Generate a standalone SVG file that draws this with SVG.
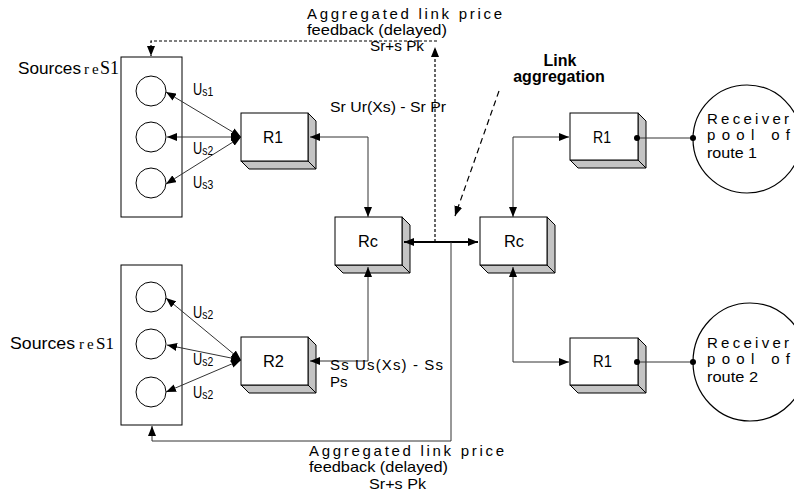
<svg xmlns="http://www.w3.org/2000/svg" width="794" height="495" viewBox="0 0 794 495">
<defs>
<marker id="ah" viewBox="0 0 10 8" refX="10" refY="4" markerWidth="10" markerHeight="8" markerUnits="userSpaceOnUse" orient="auto-start-reverse"><path d="M0,0 L10,4 L0,8 z" fill="#000"/></marker>
<style>
.t{font-family:"Liberation Sans",Arial,sans-serif;fill:#000}
.s{font-family:"Liberation Serif","Times New Roman",serif;fill:#000}
.b{font-family:"Liberation Sans",Arial,sans-serif;font-weight:bold;fill:#000}
.front{fill:#fff;stroke:#000;stroke-width:1}
.side{fill:#c4c4c4;stroke:#000;stroke-width:1;stroke-linejoin:round}
.c{fill:none;stroke:#333;stroke-width:1}
.d{fill:none;stroke:#000;stroke-width:1.2;stroke-dasharray:3 2}
.dl{fill:none;stroke:#000;stroke-width:1.2;stroke-dasharray:6 4}
.thick{fill:none;stroke:#000;stroke-width:2}
.ring{fill:#fff;stroke:#000;stroke-width:1}
.box{fill:#fff;stroke:#000;stroke-width:1}
.pool{fill:none;stroke:#000;stroke-width:1.2}
</style>
</defs>
<rect width="794" height="495" fill="#fff"/>

<g id="sources1">
  <rect class="box" x="121" y="57" width="61" height="160"/>
  <circle class="ring" cx="151" cy="91" r="15"/>
  <circle class="ring" cx="151" cy="137" r="15"/>
  <circle class="ring" cx="151" cy="183" r="15"/>
  <text class="t" x="18" y="74" font-size="17" textLength="63" lengthAdjust="spacingAndGlyphs">Sources</text>
  <text class="s" x="84" y="74" font-size="15">r<tspan x="92">e</tspan><tspan x="100" font-size="18">S1</tspan></text>
</g>
<g id="sources2">
  <rect class="box" x="121" y="265" width="61" height="160"/>
  <circle class="ring" cx="151" cy="297" r="15"/>
  <circle class="ring" cx="151" cy="344" r="15"/>
  <circle class="ring" cx="151" cy="392" r="15"/>
  <text class="t" x="10" y="349" font-size="17" textLength="65" lengthAdjust="spacingAndGlyphs">Sources</text>
  <text class="s" x="79" y="349" font-size="15">r<tspan x="87">e</tspan><tspan x="96" font-size="17">S1</tspan></text>
</g>

<g id="labels-u">
  <text class="t" transform="translate(193,95) scale(0.8,1)" font-size="16">U<tspan font-size="13" dy="1">s1</tspan></text>
  <text class="t" transform="translate(193,154) scale(0.8,1)" font-size="16">U<tspan font-size="13" dy="1">s2</tspan></text>
  <text class="t" transform="translate(193,188) scale(0.8,1)" font-size="16">U<tspan font-size="13" dy="1">s3</tspan></text>
  <text class="t" transform="translate(193,318) scale(0.8,1)" font-size="16">U<tspan font-size="13" dy="1">s2</tspan></text>
  <text class="t" transform="translate(193,365) scale(0.8,1)" font-size="16">U<tspan font-size="13" dy="1">s2</tspan></text>
  <text class="t" transform="translate(193,398) scale(0.8,1)" font-size="16">U<tspan font-size="13" dy="1">s2</tspan></text>
</g>

<g id="r1-top">
  <polygon class="side" points="308,113 316,121 316,169 308,161"/>
  <polygon class="side" points="241,161 308,161 316,169 249,169"/>
  <rect class="front" x="241" y="113" width="67" height="48"/>
  <text class="t" x="263" y="143" font-size="16" textLength="20" lengthAdjust="spacingAndGlyphs">R1</text>
</g>
<g id="r2">
  <polygon class="side" points="308,337 316,345 316,393 308,385"/>
  <polygon class="side" points="241,385 308,385 316,393 249,393"/>
  <rect class="front" x="241" y="337" width="67" height="48"/>
  <text class="t" x="263" y="367" font-size="16" textLength="21" lengthAdjust="spacingAndGlyphs">R2</text>
</g>
<g id="rc-left">
  <polygon class="side" points="402,217 410,225 410,273 402,265"/>
  <polygon class="side" points="335,265 402,265 410,273 343,273"/>
  <rect class="front" x="335" y="217" width="67" height="48"/>
  <text class="t" x="358" y="247" font-size="16" textLength="20" lengthAdjust="spacingAndGlyphs">Rc</text>
</g>
<g id="rc-right">
  <polygon class="side" points="547,217 555,225 555,273 547,265"/>
  <polygon class="side" points="480,265 547,265 555,273 488,273"/>
  <rect class="front" x="480" y="217" width="67" height="48"/>
  <text class="t" x="504" y="247" font-size="16" textLength="20" lengthAdjust="spacingAndGlyphs">Rc</text>
</g>
<g id="r1-right-top">
  <polygon class="side" points="638,113 646,121 646,168 638,160"/>
  <polygon class="side" points="570,160 638,160 646,168 578,168"/>
  <rect class="front" x="570" y="113" width="68" height="47"/>
  <text class="t" x="593" y="143" font-size="16" textLength="18" lengthAdjust="spacingAndGlyphs">R1</text>
</g>
<g id="r1-right-bottom">
  <polygon class="side" points="638,338 646,346 646,393 638,385"/>
  <polygon class="side" points="570,385 638,385 646,393 578,393"/>
  <rect class="front" x="570" y="338" width="68" height="47"/>
  <text class="t" x="593" y="367" font-size="16" textLength="19" lengthAdjust="spacingAndGlyphs">R1</text>
</g>

<g id="receiver1">
  <circle class="pool" cx="747" cy="139" r="54"/>
  <text class="t" x="707" y="124" font-size="15" textLength="82" lengthAdjust="spacing">Receiver</text>
  <text class="t" x="707" y="140" font-size="15" textLength="83" lengthAdjust="spacing">pool of</text>
  <text class="t" x="707" y="158" font-size="15" textLength="50" lengthAdjust="spacingAndGlyphs">route 1</text>
</g>
<g id="receiver2">
  <ellipse class="pool" cx="750" cy="362" rx="57" ry="59"/>
  <text class="t" x="707" y="348" font-size="15" textLength="82" lengthAdjust="spacing">Receiver</text>
  <text class="t" x="707" y="364" font-size="15" textLength="83" lengthAdjust="spacing">pool of</text>
  <text class="t" x="707" y="382" font-size="15" textLength="51" lengthAdjust="spacingAndGlyphs">route 2</text>
</g>

<g id="connectors">
  <path class="c" d="M241,137 L166,92" marker-start="url(#ah)" marker-end="url(#ah)"/>
  <path class="c" d="M241,137 L167,137" marker-start="url(#ah)" marker-end="url(#ah)"/>
  <path class="c" d="M241,137 L166,184" marker-start="url(#ah)" marker-end="url(#ah)"/>
  <path class="c" d="M241,360 L166,298" marker-start="url(#ah)" marker-end="url(#ah)"/>
  <path class="c" d="M241,360 L167,345" marker-start="url(#ah)" marker-end="url(#ah)"/>
  <path class="c" d="M241,360 L166,392" marker-start="url(#ah)" marker-end="url(#ah)"/>
  <path class="c" d="M310,137 H368 V217" marker-start="url(#ah)" marker-end="url(#ah)"/>
  <path class="c" d="M368,267 V361 H310" marker-start="url(#ah)" marker-end="url(#ah)"/>
  <path class="c" d="M513,217 V137 H569" marker-start="url(#ah)" marker-end="url(#ah)"/>
  <path class="c" d="M513,267 V362 H569" marker-start="url(#ah)" marker-end="url(#ah)"/>
  <path class="thick" d="M404,242 H478" marker-start="url(#ah)" marker-end="url(#ah)"/>
  <path class="d" d="M435,242 V47" marker-end="url(#ah)"/>
  <path class="d" d="M437,41 H151 V56" marker-end="url(#ah)"/>
  <path class="c" d="M451,242 V441 H152 V426" marker-end="url(#ah)"/>
  <path class="dl" d="M499,91 L455,216" marker-end="url(#ah)"/>
  <path class="c" d="M637,138 H693"/>
  <circle cx="637" cy="138" r="3" fill="#000"/>
  <circle cx="693" cy="138" r="3" fill="#000"/>
  <path class="c" d="M637,362 H693"/>
  <circle cx="637" cy="362" r="3" fill="#000"/>
  <circle cx="693" cy="362" r="3" fill="#000"/>
</g>

<g id="labels">
  <text class="t" x="307" y="19" font-size="15" textLength="195" lengthAdjust="spacing">Aggregated link price</text>
  <text class="t" x="307" y="35" font-size="15" textLength="140" lengthAdjust="spacingAndGlyphs">feedback (delayed)</text>
  <text class="t" x="370" y="51" font-size="15" textLength="54" lengthAdjust="spacingAndGlyphs">Sr+s Pk</text>
  <text class="t" x="330" y="112" font-size="15" textLength="116" lengthAdjust="spacingAndGlyphs">Sr Ur(Xs) - Sr Pr</text>
  <text class="t" x="330" y="370" font-size="15" textLength="113" lengthAdjust="spacing">Ss Us(Xs) - Ss</text>
  <text class="t" x="330" y="387" font-size="15">Ps</text>
  <text class="t" x="309" y="456" font-size="15" textLength="195" lengthAdjust="spacing">Aggregated link price</text>
  <text class="t" x="309" y="472" font-size="15" textLength="139" lengthAdjust="spacingAndGlyphs">feedback (delayed)</text>
  <text class="t" x="369" y="489" font-size="15" textLength="57" lengthAdjust="spacingAndGlyphs">Sr+s Pk</text>
  <text class="b" font-size="16" text-anchor="middle"><tspan x="560" y="66">Link</tspan><tspan x="559" y="82">aggregation</tspan></text>
</g>
</svg>
